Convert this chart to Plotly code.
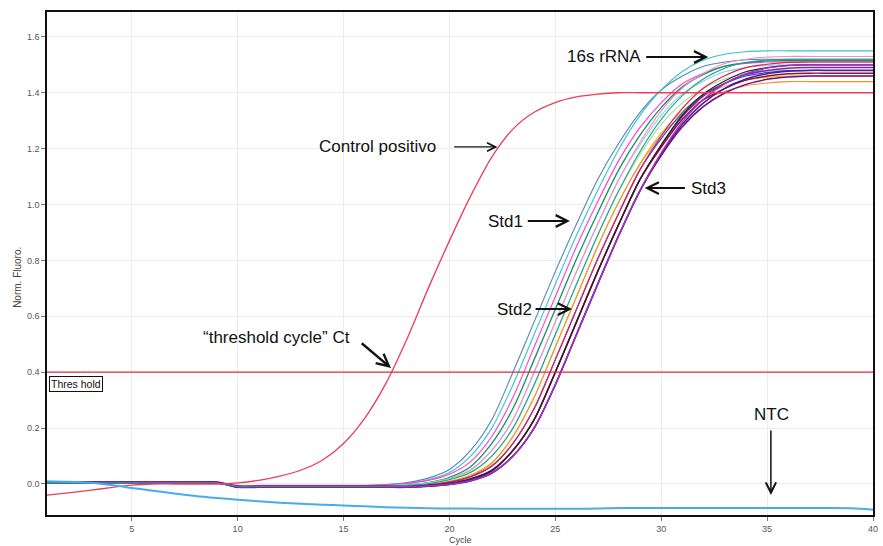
import plotly.graph_objects as go

# ---------------- data ----------------
CYCLES = list(range(1, 41))
X_TICKS = [5, 10, 15, 20, 25, 30, 35, 40]
Y_TICKS = [0.0, 0.2, 0.4, 0.6, 0.8, 1.0, 1.2, 1.4, 1.6]
Y_TICK_LABELS = ["0.0", "0.2", "0.4", "0.6", "0.8", "1.0", "1.2", "1.4", "1.6"]
THRESHOLD = 0.4

CONTROL_POSITIVO = [
    -0.040, -0.032, -0.023, -0.013, -0.004, 0.000, 0.000, 0.000, 0.000, 0.004,
    0.013, 0.028, 0.050, 0.085, 0.145, 0.235, 0.360, 0.520, 0.700, 0.870,
    1.030, 1.170, 1.270, 1.330, 1.365, 1.385, 1.395, 1.400, 1.400, 1.400,
    1.400, 1.400, 1.400, 1.400, 1.400, 1.400, 1.400, 1.400, 1.400, 1.400]

NTC = [
    0.010, 0.008, 0.004, -0.004, -0.014, -0.024, -0.034, -0.043, -0.050, -0.056,
    -0.062, -0.067, -0.071, -0.074, -0.077, -0.080, -0.083, -0.085, -0.087, -0.088,
    -0.088, -0.089, -0.089, -0.089, -0.089, -0.089, -0.088, -0.086, -0.086, -0.086,
    -0.086, -0.086, -0.086, -0.086, -0.086, -0.086, -0.086, -0.086, -0.087, -0.092]

S01 = [0.006, 0.006, 0.006, 0.006, 0.006, 0.006, 0.006, 0.006, 0.006, -0.006,
       -0.006, -0.006, -0.006, -0.006, -0.006, -0.006, -0.002, 0.005, 0.021, 0.052,
       0.120, 0.230, 0.400, 0.580, 0.760, 0.930, 1.090, 1.220, 1.330, 1.410,
       1.460, 1.495, 1.510, 1.518, 1.520, 1.520, 1.520, 1.520, 1.520, 1.520]
S02 = [0.004, 0.004, 0.004, 0.004, 0.004, 0.004, 0.004, 0.004, 0.004, -0.008,
       -0.008, -0.008, -0.008, -0.008, -0.008, -0.007, -0.005, 0.001, 0.015, 0.041,
       0.100, 0.200, 0.355, 0.535, 0.715, 0.890, 1.050, 1.198, 1.319, 1.410,
       1.476, 1.517, 1.538, 1.547, 1.550, 1.550, 1.550, 1.550, 1.550, 1.550]
S03 = [0.008, 0.008, 0.008, 0.008, 0.008, 0.008, 0.008, 0.008, 0.008, -0.005,
       -0.005, -0.005, -0.005, -0.005, -0.005, -0.005, -0.003, 0.002, 0.013, 0.035,
       0.080, 0.170, 0.310, 0.490, 0.670, 0.850, 1.010, 1.158, 1.276, 1.364,
       1.432, 1.470, 1.495, 1.505, 1.510, 1.510, 1.510, 1.510, 1.510, 1.510]
S04 = [0.005, 0.005, 0.005, 0.005, 0.005, 0.005, 0.005, 0.005, 0.005, -0.010,
       -0.010, -0.010, -0.010, -0.010, -0.010, -0.010, -0.009, -0.004, 0.005, 0.024,
       0.062, 0.145, 0.270, 0.445, 0.625, 0.805, 0.970, 1.125, 1.248, 1.347,
       1.421, 1.466, 1.495, 1.508, 1.514, 1.515, 1.515, 1.515, 1.515, 1.515]
S05 = [0.003, 0.003, 0.003, 0.003, 0.003, 0.003, 0.003, 0.003, 0.003, -0.007,
       -0.007, -0.007, -0.007, -0.007, -0.007, -0.007, -0.007, -0.003, 0.004, 0.020,
       0.051, 0.120, 0.230, 0.400, 0.580, 0.760, 0.930, 1.090, 1.214, 1.320,
       1.396, 1.442, 1.475, 1.490, 1.498, 1.500, 1.500, 1.500, 1.500, 1.500]
S06 = [0.006, 0.006, 0.006, 0.006, 0.006, 0.006, 0.006, 0.006, 0.006, -0.009,
       -0.009, -0.009, -0.009, -0.009, -0.009, -0.009, -0.009, -0.005, 0.002, 0.018,
       0.049, 0.120, 0.230, 0.400, 0.580, 0.760, 0.930, 1.090, 1.223, 1.335,
       1.417, 1.469, 1.505, 1.520, 1.528, 1.530, 1.530, 1.530, 1.530, 1.530]
S07 = [0.004, 0.004, 0.004, 0.004, 0.004, 0.004, 0.004, 0.004, 0.004, -0.006,
       -0.006, -0.006, -0.006, -0.006, -0.006, -0.006, -0.006, -0.003, 0.003, 0.017,
       0.043, 0.100, 0.200, 0.355, 0.535, 0.715, 0.890, 1.050, 1.180, 1.287,
       1.364, 1.416, 1.449, 1.468, 1.477, 1.480, 1.480, 1.480, 1.480, 1.480]
S08 = [0.002, 0.002, 0.002, 0.002, 0.002, 0.002, 0.002, 0.002, 0.002, -0.008,
       -0.008, -0.008, -0.008, -0.008, -0.008, -0.008, -0.008, -0.006, -0.001, 0.010,
       0.032, 0.077, 0.170, 0.310, 0.490, 0.670, 0.850, 1.010, 1.148, 1.256,
       1.334, 1.392, 1.423, 1.445, 1.455, 1.460, 1.460, 1.460, 1.460, 1.460]
S09 = [0.005, 0.005, 0.005, 0.005, 0.005, 0.005, 0.005, 0.005, 0.005, -0.011,
       -0.011, -0.011, -0.011, -0.011, -0.011, -0.011, -0.011, -0.009, -0.004, 0.007,
       0.029, 0.074, 0.170, 0.310, 0.490, 0.670, 0.850, 1.010, 1.144, 1.248,
       1.322, 1.376, 1.404, 1.425, 1.435, 1.440, 1.440, 1.440, 1.440, 1.440]
S10 = [0.006, 0.006, 0.006, 0.006, 0.006, 0.006, 0.006, 0.006, 0.006, -0.009,
       -0.009, -0.009, -0.009, -0.009, -0.009, -0.009, -0.009, -0.008, -0.004, 0.006,
       0.025, 0.063, 0.145, 0.270, 0.445, 0.625, 0.805, 0.970, 1.125, 1.236,
       1.328, 1.395, 1.433, 1.460, 1.472, 1.479, 1.480, 1.480, 1.480, 1.480]
S11 = [0.004, 0.004, 0.004, 0.004, 0.004, 0.004, 0.004, 0.004, 0.004, -0.007,
       -0.007, -0.007, -0.007, -0.007, -0.007, -0.007, -0.007, -0.006, -0.002, 0.008,
       0.027, 0.065, 0.145, 0.270, 0.445, 0.625, 0.805, 0.970, 1.125, 1.246,
       1.344, 1.417, 1.461, 1.490, 1.502, 1.509, 1.510, 1.510, 1.510, 1.510]
S12 = [0.007, 0.007, 0.007, 0.007, 0.007, 0.007, 0.007, 0.007, 0.007, -0.012,
       -0.012, -0.012, -0.012, -0.012, -0.012, -0.012, -0.012, -0.012, -0.008, -0.001,
       0.015, 0.046, 0.120, 0.230, 0.400, 0.580, 0.760, 0.930, 1.090, 1.211,
       1.315, 1.389, 1.433, 1.465, 1.480, 1.488, 1.490, 1.490, 1.490, 1.490]
S13 = [0.003, 0.003, 0.003, 0.003, 0.003, 0.003, 0.003, 0.003, 0.003, -0.008,
       -0.008, -0.008, -0.008, -0.008, -0.008, -0.008, -0.008, -0.008, -0.004, 0.003,
       0.019, 0.050, 0.120, 0.230, 0.400, 0.580, 0.760, 0.930, 1.090, 1.205,
       1.305, 1.375, 1.415, 1.445, 1.460, 1.468, 1.470, 1.470, 1.470, 1.470]
S14 = [0.005, 0.005, 0.005, 0.005, 0.005, 0.005, 0.005, 0.005, 0.005, -0.010,
       -0.010, -0.010, -0.010, -0.010, -0.010, -0.010, -0.010, -0.010, -0.006, 0.001,
       0.017, 0.048, 0.120, 0.230, 0.400, 0.580, 0.760, 0.930, 1.090, 1.214,
       1.320, 1.396, 1.442, 1.475, 1.490, 1.498, 1.500, 1.500, 1.500, 1.500]
S15 = [0.006, 0.006, 0.006, 0.006, 0.006, 0.006, 0.006, 0.006, 0.006, -0.009,
       -0.009, -0.009, -0.009, -0.009, -0.009, -0.009, -0.009, -0.009, -0.006, 0.000,
       0.014, 0.040, 0.100, 0.200, 0.355, 0.535, 0.715, 0.890, 1.050, 1.180,
       1.287, 1.364, 1.416, 1.449, 1.468, 1.477, 1.480, 1.480, 1.480, 1.480]
S16 = [0.004, 0.004, 0.004, 0.004, 0.004, 0.004, 0.004, 0.004, 0.004, -0.011,
       -0.011, -0.011, -0.011, -0.011, -0.011, -0.011, -0.011, -0.011, -0.008, -0.002,
       0.011, 0.038, 0.100, 0.200, 0.355, 0.535, 0.715, 0.890, 1.050, 1.175,
       1.278, 1.351, 1.399, 1.430, 1.448, 1.456, 1.460, 1.460, 1.460, 1.460]
S17 = [0.005, 0.005, 0.005, 0.005, 0.005, 0.005, 0.005, 0.005, 0.005, -0.010,
       -0.010, -0.010, -0.010, -0.010, -0.010, -0.010, -0.010, -0.010, -0.007, -0.001,
       0.012, 0.039, 0.100, 0.200, 0.355, 0.535, 0.715, 0.890, 1.050, 1.185,
       1.296, 1.377, 1.433, 1.468, 1.488, 1.497, 1.500, 1.500, 1.500, 1.500]
S18 = [0.003, 0.003, 0.003, 0.003, 0.003, 0.003, 0.003, 0.003, 0.003, -0.008,
       -0.008, -0.008, -0.008, -0.008, -0.008, -0.008, -0.008, -0.005, 0.001, 0.015,
       0.041, 0.100, 0.200, 0.355, 0.535, 0.715, 0.890, 1.050, 1.190, 1.305,
       1.390, 1.450, 1.488, 1.508, 1.517, 1.520, 1.520, 1.520, 1.520, 1.520]

SAMPLES = [S01, S02, S03, S04, S05, S06, S07, S08, S09,
           S10, S11, S12, S13, S14, S15, S16, S17, S18]
SAMPLE_COLORS = ["#4f86c0", "#35c4c8", "#ff3ad6", "#13945a", "#86d2e8", "#f48ac8",
                 "#a6dc9a", "#c9c830", "#f0902e", "#2a48d2", "#e3204e", "#8a22a6",
                 "#8e1232", "#222222", "#4a1f9e", "#7b0c7b", "#9b34c4", "#1fa08e"]
SAMPLE_WIDTHS = [1.1, 1.1, 1.1, 1.3, 1.1, 1.1, 1.1, 1.1, 1.1,
                 1.2, 1.2, 1.5, 1.4, 1.2, 1.5, 1.5, 1.4, 1.1]

# ---------------- figure ----------------
fig = go.Figure()

for vals, col, w in zip(SAMPLES, SAMPLE_COLORS, SAMPLE_WIDTHS):
    fig.add_trace(go.Scatter(x=CYCLES, y=vals, mode="lines",
                             line=dict(color=col, width=w, shape="spline", smoothing=0.8),
                             hoverinfo="skip"))

fig.add_trace(go.Scatter(x=CYCLES, y=CONTROL_POSITIVO, mode="lines",
                         line=dict(color="#ec3c58", width=1.3, shape="spline", smoothing=0.8),
                         hoverinfo="skip"))
fig.add_trace(go.Scatter(x=CYCLES, y=NTC, mode="lines",
                         line=dict(color="#48aaf0", width=2, shape="spline", smoothing=0.8),
                         hoverinfo="skip"))

fig.add_shape(type="line", xref="paper", x0=0, x1=1, yref="y",
              y0=THRESHOLD, y1=THRESHOLD, line=dict(color="#e8283c", width=1.3))

FONT = "Liberation Sans, Arial, sans-serif"
TXT = dict(family=FONT, size=17, color="#111111")


def label(x, y, text):
    fig.add_annotation(x=x, y=y, xref="x", yref="y", text=text, showarrow=False,
                       font=TXT, xanchor="center", yanchor="middle")


def arrow(tip_x, tip_y, tail_x, tail_y, width, size):
    fig.add_annotation(x=tip_x, y=tip_y, ax=tail_x, ay=tail_y, xref="x", yref="y",
                       axref="x", ayref="y", text="", showarrow=True, arrowhead=5,
                       arrowwidth=width, arrowsize=size, arrowcolor="#111111")


label(27.29, 1.528, "16s rRNA")
arrow(32.22, 1.528, 29.22, 1.528, 2.0, 1.15)

label(16.59, 1.206, "Control positivo")
arrow(22.27, 1.206, 20.15, 1.206, 1.3, 1.3)

label(22.64, 0.941, "Std1")
arrow(25.69, 0.941, 23.63, 0.941, 2.0, 1.15)

label(23.07, 0.626, "Std2")
arrow(25.79, 0.626, 24.0, 0.626, 2.0, 1.15)

label(32.22, 1.059, "Std3")
arrow(29.22, 1.059, 31.19, 1.059, 2.0, 1.15)

label(11.85, 0.523, "\u201cthreshold cycle\u201d Ct")
arrow(17.24, 0.415, 15.79, 0.508, 2.4, 1.0)

label(35.23, 0.247, "NTC")
arrow(35.18, -0.039, 35.18, 0.197, 1.5, 1.35)

# Threshold tag box
fig.add_annotation(x=0.0025, y=THRESHOLD - 0.012, xref="paper", yref="y", text="Thres hold",
                   showarrow=False, xanchor="left", yanchor="top",
                   font=dict(family=FONT, size=10.5, color="#111111"),
                   bordercolor="#111111", borderwidth=1, borderpad=1, bgcolor="white")

# axis titles
fig.add_annotation(x=-0.036, y=0.472, xref="paper", yref="paper", text="Norm. Fluoro.",
                   showarrow=False, textangle=-90, xanchor="center", yanchor="middle",
                   font=dict(family=FONT, size=10, color="#444444"))
fig.add_annotation(x=0.5, y=-0.036, xref="paper", yref="paper", text="Cycle",
                   showarrow=False, xanchor="center", yanchor="top",
                   font=dict(family=FONT, size=9, color="#444444"))

axis_common = dict(showline=True, mirror=True, linecolor="#111111", linewidth=1.5,
                   showgrid=True, gridcolor="#ececec", gridwidth=1, zeroline=False,
                   ticks="outside", ticklen=4, tickcolor="#777777",
                   tickfont=dict(family=FONT, size=9, color="#555555"))

fig.update_xaxes(range=[1, 40], tickvals=X_TICKS, **axis_common)
fig.update_yaxes(range=[-0.111, 1.689], tickvals=Y_TICKS, ticktext=Y_TICK_LABELS, **axis_common)

fig.update_layout(width=883, height=546, margin=dict(l=47, r=5, t=12, b=31),
                  paper_bgcolor="white", plot_bgcolor="white", showlegend=False,
                  font=dict(family=FONT))

fig.write_html("out.html")
